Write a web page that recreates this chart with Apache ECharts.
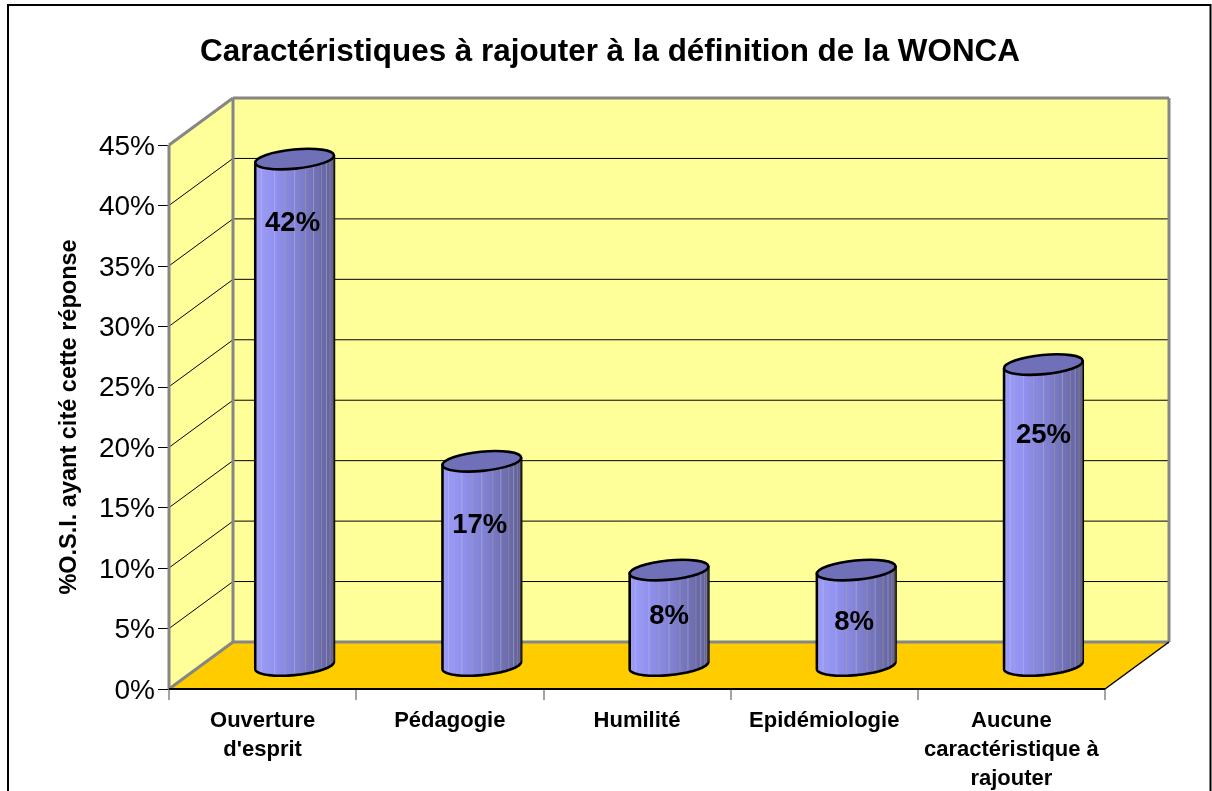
<!DOCTYPE html>
<html><head><meta charset="utf-8">
<style>html,body{margin:0;padding:0;background:#fff}#c{width:1212px;height:791px}</style>
<script src="https://cdn.jsdelivr.net/npm/echarts@6/dist/echarts.min.js"></script>
</head><body><div id="c"></div>
<script>
const chartTitle = "Caractéristiques à rajouter à la définition de la WONCA";
const yAxisName = "%O.S.I. ayant cité cette réponse";
const categories = ["Ouverture\nd'esprit", "Pédagogie", "Humilité", "Epidémiologie", "Aucune\ncaractéristique à\nrajouter"];
const values = [42, 17, 8, 8, 25];
const yMax = 45, yStep = 5;

// Presentation only
const DEPTH_X = 64, DEPTH_Y = -47;
const TOP_SHIFT = 1.3;
const LABEL_NUDGE = [64, 64, 46, 52, 71];
const LABEL_SHIFT_X = [-2, -2, 0, -2, 0];
const RX = 39.5, RY = 9.6, TILT = -5.5 * Math.PI / 180;
const FONT = '"Liberation Sans", Arial, sans-serif';
const GREY = '#868686';

function ellipsePt(cx, cy, t) {
  const c = Math.cos(t), s = Math.sin(t), ca = Math.cos(TILT), sa = Math.sin(TILT);
  return [cx + RX * c * ca - RY * s * sa, cy + RX * c * sa + RY * s * ca];
}
const T0 = Math.atan(-(RY / RX) * Math.tan(TILT));

function renderWalls(params, api) {
  const cs = params.coordSys;
  const x0 = cs.x, x1 = cs.x + cs.width;
  const yB = api.coord([0, 0])[1], yT = api.coord([0, yMax])[1];
  const bx0 = x0 + DEPTH_X, bx1 = x1 + DEPTH_X;
  const kids = [];
  const poly = (pts, fill) => ({type: 'polygon', shape: {points: pts}, style: {fill: fill}});
  const line = (a, b, col, w) => ({type: 'line', shape: {x1: a[0], y1: a[1], x2: b[0], y2: b[1]}, style: {stroke: col, lineWidth: w}});
  kids.push(poly([[bx0, yT + DEPTH_Y], [bx1, yT + DEPTH_Y], [bx1, yB + DEPTH_Y], [bx0, yB + DEPTH_Y]], '#ffff99'));
  kids.push(poly([[x0, yT], [bx0, yT + DEPTH_Y], [bx0, yB + DEPTH_Y], [x0, yB]], '#ffff99'));
  kids.push(poly([[x0, yB], [x1, yB], [bx1, yB + DEPTH_Y], [bx0, yB + DEPTH_Y]], '#ffcc00'));
  for (let v = yStep; v < yMax; v += yStep) {
    const y = api.coord([0, v])[1];
    kids.push(line([x0, y], [bx0, y + DEPTH_Y], '#000', 1));
    kids.push(line([bx0, y + DEPTH_Y], [bx1, y + DEPTH_Y], '#000', 1));
  }
  [[[x0, yT], [bx0, yT + DEPTH_Y]], [[bx0, yT + DEPTH_Y], [bx1, yT + DEPTH_Y]],
   [[bx0, yT + DEPTH_Y], [bx0, yB + DEPTH_Y]], [[bx1, yT + DEPTH_Y], [bx1, yB + DEPTH_Y]],
   [[bx0, yB + DEPTH_Y], [bx1, yB + DEPTH_Y]], [[x0, yT], [x0, yB]], [[x0, yB], [bx0, yB + DEPTH_Y]]
  ].forEach(s => kids.push(line(s[0], s[1], GREY, 3)));
  kids.push(line([x0, yB], [x1, yB], '#000', 2));
  kids.push(line([x1, yB], [bx1, yB + DEPTH_Y], '#000', 1.5));
  return {type: 'group', children: kids};
}

const bodyFill = {type: 'linear', x: 0, y: 0, x2: 1, y2: 0, colorStops: [
  {offset: 0, color: '#9c9cff'}, {offset: 0.2, color: '#9494f4'}, {offset: 0.55, color: '#8080d0'},
  {offset: 0.8, color: '#6e6eb0'}, {offset: 1, color: '#5f5f97'}]};
const STRIPES = [0.1, 0.18, 0.24, 0.33, 0.42, 0.5, 0.59, 0.66, 0.74, 0.8, 0.86, 0.92, 0.97];

function renderBar(params, api) {
  const i = api.value(0), v = api.value(1);
  const top = api.coord([i, v]), base = api.coord([i, 0]);
  const cx = base[0] + DEPTH_X / 2, cyB = base[1] + DEPTH_Y / 2, cyT = top[1] + DEPTH_Y / 2 + TOP_SHIFT;
  const pts = [ellipsePt(cx, cyT, T0)];
  const arc = [];
  for (let k = 0; k <= 40; k++) arc.push(ellipsePt(cx, cyB, T0 + Math.PI * k / 40));
  const body = pts.concat(arc, [ellipsePt(cx, cyT, T0 + Math.PI)]);
  const kids = [{type: 'polygon', shape: {points: body}, style: {fill: bodyFill, stroke: '#000', lineWidth: 2.6, lineJoin: 'round'}}];
  STRIPES.forEach((f, n) => {
    const t = T0 + Math.PI * (1 - f);
    const a = ellipsePt(cx, cyT, t), b = ellipsePt(cx, cyB, t);
    kids.push({type: 'line', shape: {x1: a[0], y1: a[1], x2: b[0], y2: b[1] - 1.5},
      style: {stroke: n % 2 ? '#d4d4e0' : '#b7a98f', lineWidth: 1, opacity: 0.36}});
  });
  kids.push({type: 'ellipse', shape: {cx: cx, cy: cyT, rx: RX, ry: RY}, x: 0, y: 0,
    rotation: -TILT, originX: cx, originY: cyT,
    style: {fill: '#7070b8', stroke: '#000', lineWidth: 2.6}});
  kids.push({type: 'text', x: cx + LABEL_SHIFT_X[i], y: cyT + LABEL_NUDGE[i], z2: 10,
    style: {text: v + '%', fill: '#000', font: 'bold 27.5px ' + FONT, align: 'center', verticalAlign: 'middle'}});
  return {type: 'group', children: kids};
}

const chart = echarts.init(document.getElementById('c'), null, {renderer: 'canvas'});
chart.setOption({
  animation: false,
  backgroundColor: '#fff',
  title: {text: chartTitle, left: 605, top: 32, textAlign: 'center',
    textStyle: {fontFamily: FONT, fontWeight: 'bold', fontSize: 31.4, color: '#000'}},
  tooltip: {show: false},
  grid: {left: 169, right: 107, top: 145, bottom: 102, outerBoundsMode: 'none'},
  xAxis: {type: 'category', data: categories,
    axisLine: {show: false},
    axisTick: {show: true, alignWithLabel: false, length: 11, lineStyle: {color: GREY, width: 1.5}},
    axisLabel: {interval: 0, margin: 17, fontFamily: FONT, fontWeight: 'bold', fontSize: 22, color: '#000', lineHeight: 29},
    splitLine: {show: false}},
  yAxis: {type: 'value', min: 0, max: yMax, interval: yStep,
    name: yAxisName, nameLocation: 'middle', nameGap: 87, nameRotate: 90,
    nameTextStyle: {fontFamily: FONT, fontWeight: 'bold', fontSize: 23.5, color: '#000'},
    axisLine: {show: false},
    axisTick: {show: true, length: 11, lineStyle: {color: '#000', width: 1}},
    axisLabel: {margin: 14, verticalAlign: 'top', lineHeight: 4, formatter: '{value}%', fontFamily: FONT, fontSize: 28, color: '#000'},
    splitLine: {show: false}},
  graphic: [{type: 'rect', silent: true, z: -1, shape: {x: 8, y: 5, width: 1202.5, height: 800},
    style: {fill: 'transparent', stroke: '#000', lineWidth: 2}}],
  series: [
    {type: 'custom', z: 1, silent: true, renderItem: renderWalls, encode: {x: 0, y: 1}, data: [[0, 0]]},
    {type: 'custom', z: 2, silent: true, renderItem: renderBar, encode: {x: 0, y: 1},
     data: values.map((v, i) => [i, v])}
  ]
});
</script></body></html>
